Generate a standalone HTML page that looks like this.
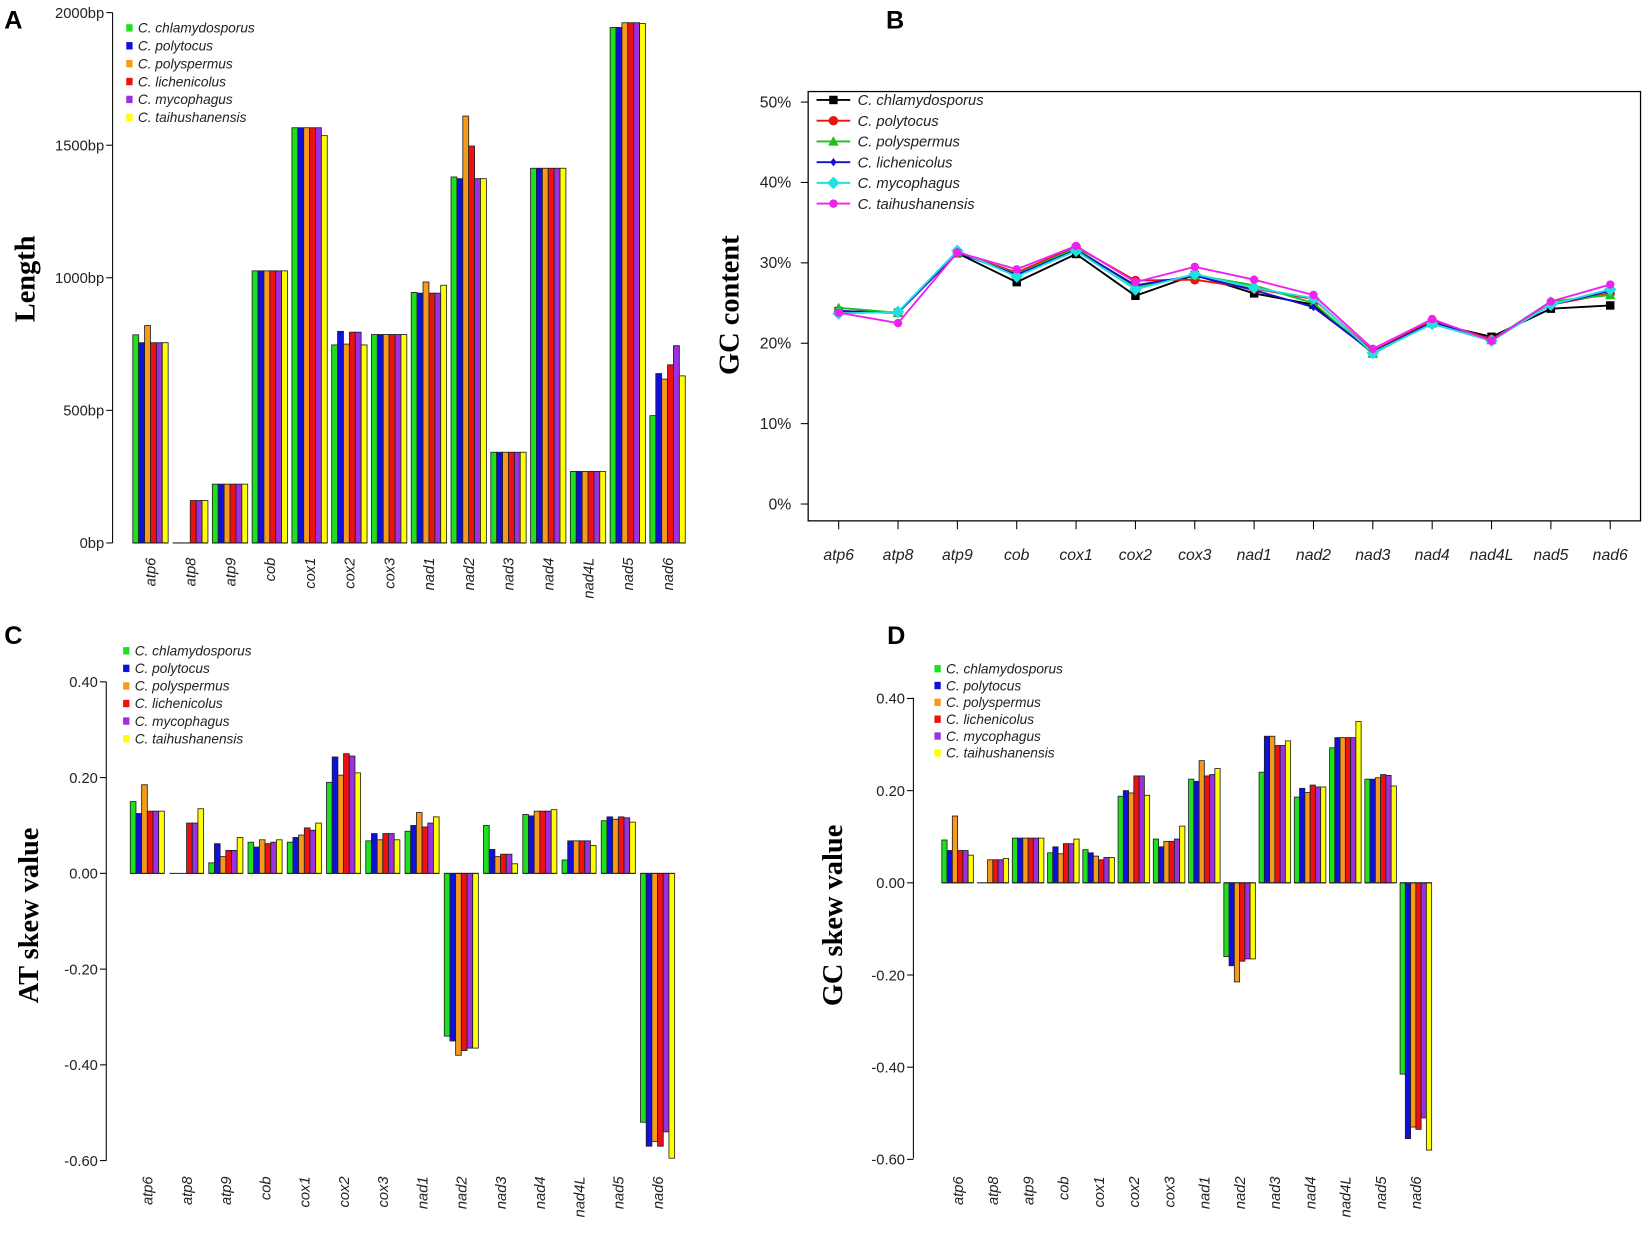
<!DOCTYPE html>
<html><head><meta charset="utf-8"><style>
html,body{margin:0;padding:0;background:#fff;}
svg{display:block;}
text{font-family:"Liberation Sans",sans-serif;}
text.ser{font-family:"Liberation Serif",serif;}
</style></head><body>
<svg id="s" width="1650" height="1239" viewBox="0 0 1568 1177.5" preserveAspectRatio="none" xmlns="http://www.w3.org/2000/svg"></svg>
<script>
const S=document.getElementById('s');let h='';
const C=['#1ee01e','#1010dd','#f59a1a','#ee1111','#9b30e0','#ffff00'];
const sp=['C. chlamydosporus','C. polytocus','C. polyspermus','C. lichenicolus','C. mycophagus','C. taihushanensis'];
const G=['atp6','atp8','atp9','cob','cox1','cox2','cox3','nad1','nad2','nad3','nad4','nad4L','nad5','nad6'];
function t(x,y,s,sz,o){h+=`<text x="${x}" y="${y}" font-size="${sz}" ${o||''}>${s}</text>`;}
t(4,27,'A',24,'font-weight="bold"');t(842,27,'B',24,'font-weight="bold"');
t(4,612,'C',24,'font-weight="bold"');t(843,612,'D',24,'font-weight="bold"');
function bars(o){
 h+=`<line x1="${o.ax}" y1="${o.ytop}" x2="${o.ax}" y2="${o.ybot}" stroke="#000" stroke-width="1"/>`;
 o.ticks.forEach(k=>{const y=o.y0-k[0]*o.k;h+=`<line x1="${o.ax-6}" y1="${y}" x2="${o.ax}" y2="${y}" stroke="#000"/>`;t(o.ax-8,y+5,k[1],14,'text-anchor="end" fill="#222"');});
 o.d.forEach((g,i)=>{const cx=o.c0+i*o.p;const x0=cx-3*o.w;
  g.forEach((v,j)=>{if(v===0)return;const y=o.y0-v*o.k;const yy=Math.min(y,o.y0),hh=Math.abs(y-o.y0);
   h+=`<rect x="${(x0+j*o.w).toFixed(1)}" y="${yy.toFixed(1)}" width="${o.w.toFixed(1)}" height="${hh.toFixed(1)}" fill="${C[j]}" stroke="#222" stroke-width="0.8"/>`;});
  h+=`<line x1="${x0}" y1="${o.y0}" x2="${x0+6*o.w}" y2="${o.y0}" stroke="#222" stroke-width="1"/>`;
  t(0,0,G[i],14,`font-style="italic" text-anchor="end" transform="translate(${cx+5},${o.ly}) rotate(-90)" fill="#222"`);});
 sp.forEach((s,j)=>{const y=o.lg[1]+j*o.lg[2];h+=`<rect x="${o.lg[0]}" y="${y-8}" width="6" height="7" fill="${C[j]}"/>`;t(o.lg[0]+11,y,s,13,'font-style="italic" fill="#222"');});
 t(0,0,o.lab,27,`class="ser" font-weight="bold" text-anchor="middle" transform="translate(${o.lx},${o.lyy}) rotate(-90)"`);
}
bars({ax:107,ytop:12,ybot:516,y0:516,k:0.252,ticks:[[0,'0bp'],[500,'500bp'],[1000,'1000bp'],[1500,'1500bp'],[2000,'2000bp']],
 c0:143,p:37.8,w:5.6,ly:530,lg:[120,31,17],lab:'Length',lx:33,lyy:265,
 d:[[785,755,820,755,755,755],[0,0,0,160,160,160],[222,222,222,222,222,222],[1026,1026,1026,1026,1026,1026],[1566,1566,1566,1566,1566,1536],[747,798,750,795,795,747],[786,786,786,786,786,786],[945,942,984,942,942,972],[1380,1374,1610,1497,1374,1374],[342,342,342,342,342,342],[1413,1413,1413,1413,1413,1413],[270,270,270,270,270,270],[1944,1944,1962,1962,1962,1959],[480,639,618,672,744,630]]});
bars({ax:101,ytop:648,ybot:1103,y0:830,k:455,ticks:[[0.4,'0.40'],[0.2,'0.20'],[0,'0.00'],[-0.2,'-0.20'],[-0.4,'-0.40'],[-0.6,'-0.60']],
 c0:140,p:37.3,w:5.4,ly:1118,lg:[117,623,16.7],lab:'AT skew value',lx:36,lyy:870,
 d:[[.15,.125,.185,.13,.13,.13],[0,0,0,.105,.105,.135],[.022,.062,.035,.048,.048,.075],[.065,.055,.07,.062,.065,.07],[.065,.075,.08,.095,.09,.105],[.19,.243,.205,.25,.245,.21],[.068,.083,.07,.083,.083,.07],[.088,.1,.127,.097,.105,.118],[-.34,-.35,-.38,-.37,-.365,-.365],[.1,.05,.035,.04,.04,.02],[.123,.12,.13,.13,.13,.133],[.028,.068,.068,.068,.068,.058],[.11,.118,.113,.118,.116,.107],[-.52,-.57,-.56,-.57,-.54,-.595]]});
bars({ax:868,ytop:663,ybot:1101,y0:839,k:438,ticks:[[0.4,'0.40'],[0.2,'0.20'],[0,'0.00'],[-0.2,'-0.20'],[-0.4,'-0.40'],[-0.6,'-0.60']],
 c0:910,p:33.5,w:5,ly:1118,lg:[888,640,16],lab:'GC skew value',lx:800,lyy:870,
 d:[[.093,.07,.145,.07,.07,.06],[0,0,.05,.05,.05,.053],[.097,.097,.097,.097,.097,.097],[.065,.078,.063,.085,.085,.095],[.072,.065,.058,.05,.055,.055],[.188,.2,.195,.232,.232,.19],[.095,.078,.09,.09,.095,.123],[.225,.22,.265,.232,.235,.248],[-.16,-.18,-.215,-.17,-.165,-.165],[.24,.318,.318,.298,.298,.308],[.186,.205,.196,.212,.208,.208],[.293,.315,.315,.315,.315,.35],[.225,.225,.228,.235,.233,.21],[-.415,-.555,-.53,-.535,-.51,-.58]]});
h+=`<rect x="768" y="87" width="791" height="408" fill="none" stroke="#000" stroke-width="1.2"/>`;
[0,10,20,30,40,50].forEach(v=>{const y=479-v*7.64;h+=`<line x1="761" y1="${y}" x2="768" y2="${y}" stroke="#000"/>`;t(752,y+5,v+'%',15,'text-anchor="end" fill="#222"');});
G.forEach((g,i)=>{const x=797+i*56.4;h+=`<line x1="${x}" y1="495" x2="${x}" y2="503" stroke="#000"/>`;t(x,532,g,15,'font-style="italic" text-anchor="middle" fill="#222"');});
t(0,0,'GC content',27,'class="ser" font-weight="bold" text-anchor="middle" transform="translate(702,290) rotate(-90)"');
const LC=['#000','#ee1111','#1ec01e','#1010cc','#22e0e0','#ee22ee'];
const GV=[[24,23.8,31.2,27.6,31.1,25.9,28.5,26.2,24.8,18.8,22.5,20.8,24.3,24.7],
[24,23.8,31.3,28.8,32,27.8,27.9,26.8,25.5,19,22.8,20.5,24.8,26.2],
[24.4,23.8,31.3,28.6,31.8,27,28.5,27.2,25,18.7,22.6,20.4,25.2,26],
[24,23.8,31.3,28.5,31.6,27.2,28.4,26.6,24.5,18.9,22.6,20.4,24.8,26.5],
[23.7,23.9,31.5,28.3,31.5,26.7,28.6,26.9,25.6,18.8,22.4,20.3,24.8,26.7],
[23.8,22.5,31.3,29.2,32.1,27.6,29.5,27.9,26,19.3,23,20.3,25.2,27.3]];
function mk(j,x,y){const c=LC[j];if(j==0)return `<rect x="${x-4}" y="${y-4}" width="8" height="8" fill="${c}"/>`;
 if(j==2)return `<polygon points="${x},${y-5} ${x-5},${y+4} ${x+5},${y+4}" fill="${c}"/>`;
 if(j==3)return `<polygon points="${x},${y-4} ${x+3},${y} ${x},${y+4} ${x-3},${y}" fill="${c}"/>`;
 if(j==4)return `<polygon points="${x},${y-6} ${x+6},${y} ${x},${y+6} ${x-6},${y}" fill="${c}"/>`;
 return `<circle cx="${x}" cy="${y}" r="${j==5?4:4.5}" fill="${c}"/>`;}
GV.forEach((s,j)=>{const pts=s.map((v,i)=>[797+i*56.4,479-v*7.64]);
 h+=`<polyline points="${pts.map(p=>p.join(',')).join(' ')}" fill="none" stroke="${LC[j]}" stroke-width="1.8"/>`;
 pts.forEach(p=>h+=mk(j,p[0],p[1]));
 const y=95+j*19.7;h+=`<line x1="776" y1="${y}" x2="808" y2="${y}" stroke="${LC[j]}" stroke-width="1.8"/>`+mk(j,792,y);
 t(815,y+5,sp[j],14,'font-style="italic" fill="#222"');});
S.innerHTML=h;
</script>
</body></html>
